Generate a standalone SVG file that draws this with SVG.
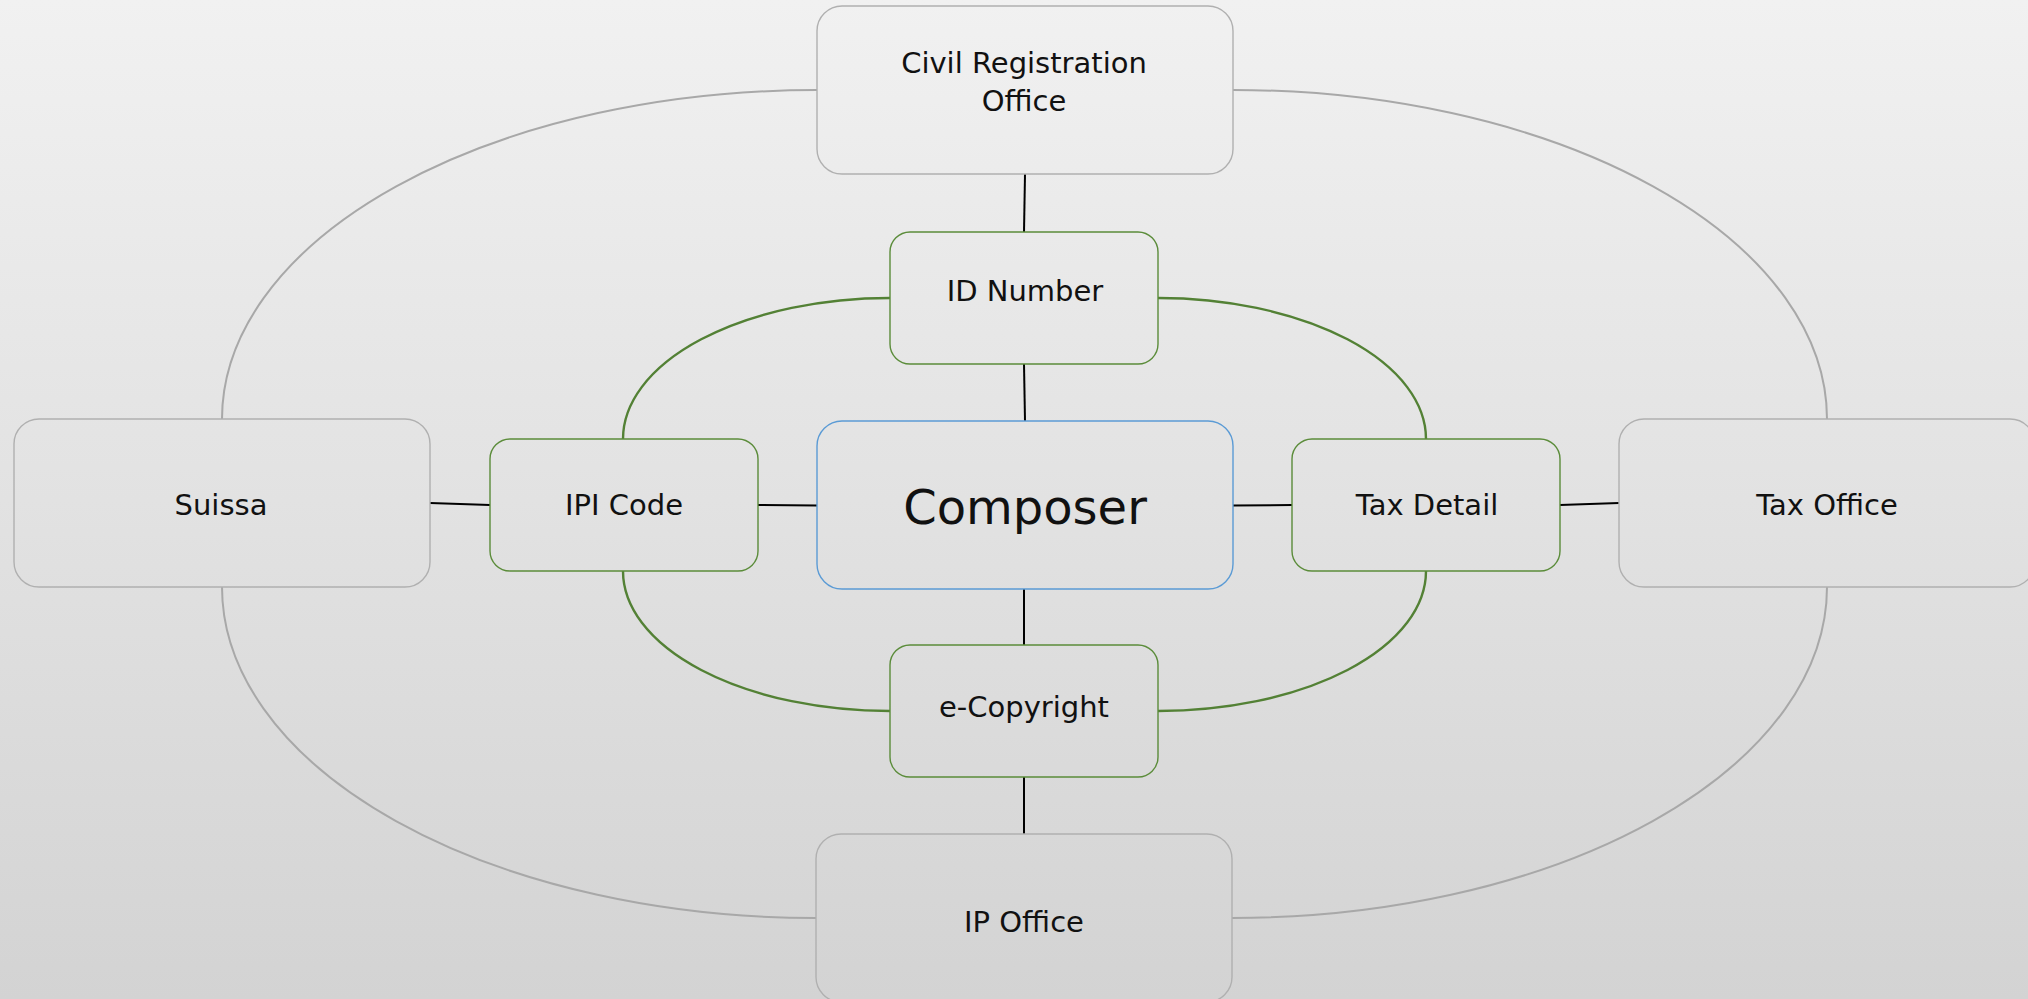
<svg xmlns="http://www.w3.org/2000/svg" width="2028" height="999" viewBox="0 0 2028 999">
<defs>
<linearGradient id="bg" x1="0" y1="0" x2="0" y2="999" gradientUnits="userSpaceOnUse">
<stop offset="0" stop-color="#f1f1f1"/>
<stop offset="1" stop-color="#d3d3d3"/>
</linearGradient>
<style>
.outer{fill:url(#bg);stroke:#b0b0b0;stroke-width:1.4}
.mid{fill:url(#bg);stroke:#5b8c3a;stroke-width:1.4}
.core{fill:url(#bg);stroke:#5b9bd5;stroke-width:1.4}
.lbl{font-family:"DejaVu Sans","Liberation Sans",sans-serif;font-size:29px;fill:#111;text-anchor:middle}
.big{font-size:48px}
.garc{fill:none;stroke:#a8a8a8;stroke-width:2}
.parc{fill:none;stroke:#538135;stroke-width:2.4}
.link{fill:none;stroke:#000;stroke-width:2}
</style>
</defs>
<rect x="0" y="0" width="2028" height="999" fill="url(#bg)"/>
<g id="connectors">
<path class="garc" d="M222,419 A595,329 0 0 1 817,90"/>
<path class="garc" d="M1233,90 A594,329 0 0 1 1827,419"/>
<path class="garc" d="M1827,587 A595,331 0 0 1 1232,918"/>
<path class="garc" d="M816,918 A594,331 0 0 1 222,587"/>
<path class="parc" d="M623,439 A267,141 0 0 1 890,298"/>
<path class="parc" d="M1158,298 A268,141 0 0 1 1426,439"/>
<path class="parc" d="M1426,571 A268,140 0 0 1 1158,711"/>
<path class="parc" d="M890,711 A267,140 0 0 1 623,571"/>
<line class="link" x1="1025" y1="174" x2="1024" y2="232"/>
<line class="link" x1="1024" y1="364" x2="1025" y2="421"/>
<line class="link" x1="1024" y1="589" x2="1024" y2="645"/>
<line class="link" x1="1024" y1="777" x2="1024" y2="834"/>
<line class="link" x1="430" y1="503" x2="490" y2="505"/>
<line class="link" x1="758" y1="505" x2="817" y2="505.5"/>
<line class="link" x1="1233" y1="505.5" x2="1292" y2="505"/>
<line class="link" x1="1560" y1="505" x2="1619" y2="503"/>
</g>
<g id="civil-registration-office">
<rect class="outer" x="817" y="6" width="416" height="168" rx="25"/>
<text class="lbl" x="1024" y="73">Civil Registration</text>
<text class="lbl" x="1024" y="111">Office</text>
</g>
<g id="id-number">
<rect class="mid" x="890" y="232" width="268" height="132" rx="20"/>
<text class="lbl" x="1025" y="301">ID Number</text>
</g>
<g id="composer">
<rect class="core" x="817" y="421" width="416" height="168" rx="25"/>
<text class="lbl big" x="1025" y="524">Composer</text>
</g>
<g id="e-copyright">
<rect class="mid" x="890" y="645" width="268" height="132" rx="20"/>
<text class="lbl" x="1024" y="717">e-Copyright</text>
</g>
<g id="ip-office">
<rect class="outer" x="816" y="834" width="416" height="168" rx="25"/>
<text class="lbl" x="1024" y="932">IP Office</text>
</g>
<g id="suissa">
<rect class="outer" x="14" y="419" width="416" height="168" rx="25"/>
<text class="lbl" x="221" y="515">Suissa</text>
</g>
<g id="ipi-code">
<rect class="mid" x="490" y="439" width="268" height="132" rx="20"/>
<text class="lbl" x="624" y="515">IPI Code</text>
</g>
<g id="tax-detail">
<rect class="mid" x="1292" y="439" width="268" height="132" rx="20"/>
<text class="lbl" x="1427" y="515">Tax Detail</text>
</g>
<g id="tax-office">
<rect class="outer" x="1619" y="419" width="416" height="168" rx="25"/>
<text class="lbl" x="1827" y="515">Tax Office</text>
</g>
</svg>
